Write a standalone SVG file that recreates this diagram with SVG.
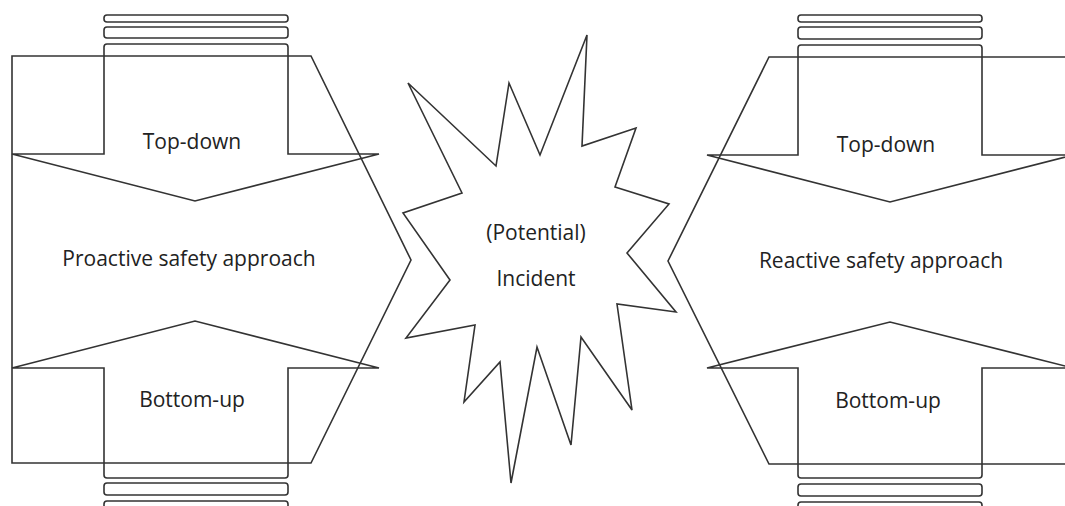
<svg xmlns="http://www.w3.org/2000/svg" width="1065" height="506" viewBox="0 0 1065 506">
<style>
.s{fill:none;stroke:#333;stroke-width:1.6;stroke-linejoin:miter}
.b{fill:none;stroke:#333;stroke-width:1.6}
.t{font-family:"Open Sans","Liberation Sans",sans-serif;font-size:21px;fill:#222;text-anchor:middle}
</style>
<rect width="1065" height="506" fill="#fff"/>
<g id="proactive">
<polygon class="s" points="12,56 311,56 411,260 311,463 12,463"/>
<text class="t" x="189" y="266">Proactive safety approach</text>
</g>
<g id="proactive-topdown">
<rect class="b" x="104" y="15" width="184" height="7" rx="3"/>
<rect class="b" x="104" y="27" width="184" height="11" rx="3"/>
<path class="s" d="M12,154 L104,154 L104,47 Q104,44 107,44 L285,44 Q288,44 288,47 L288,154 L379,154 L195,201 Z"/>
<text class="t" x="192" y="149">Top-down</text>
</g>
<g id="proactive-bottomup">
<rect class="b" x="104" y="483" width="184" height="12" rx="3"/>
<rect class="b" x="104" y="501" width="184" height="10" rx="3"/>
<path class="s" d="M12,368 L104,368 L104,475 Q104,478 107,478 L285,478 Q288,478 288,475 L288,368 L379,368 L195,321 Z"/>
<text class="t" x="192" y="407">Bottom-up</text>
</g>
<g id="incident">
<polygon class="s" points="408,83 496,166 509,83 540,155 587,35 582,146 636,128 615,187 669,204 627,253 676,312 617,304 632,410 581,337 571,445 537,347 511,483 500,362 464,402 475,325 406,338 450,280 403,213 462,193"/>
<text class="t" x="536" y="240">(Potential)</text>
<text class="t" x="536" y="286">Incident</text>
</g>
<g id="reactive">
<polygon class="s" points="1080,57 769,57 668,261 769,464 1080,464"/>
<text class="t" x="881" y="268">Reactive safety approach</text>
</g>
<g id="reactive-topdown">
<rect class="b" x="798" y="15" width="184" height="7" rx="3"/>
<rect class="b" x="798" y="27" width="184" height="12" rx="3"/>
<path class="s" d="M707,155 L798,155 L798,48 Q798,45 801,45 L979,45 Q982,45 982,48 L982,155 L1073,155 L890,202 Z"/>
<text class="t" x="886" y="152">Top-down</text>
</g>
<g id="reactive-bottomup">
<rect class="b" x="798" y="484" width="184" height="12" rx="3"/>
<rect class="b" x="798" y="502" width="184" height="10" rx="3"/>
<path class="s" d="M707,368 L798,368 L798,475 Q798,478 801,478 L979,478 Q982,478 982,475 L982,368 L1073,368 L890,322 Z"/>
<text class="t" x="888" y="408">Bottom-up</text>
</g>
<g id="connectors"></g>
</svg>
